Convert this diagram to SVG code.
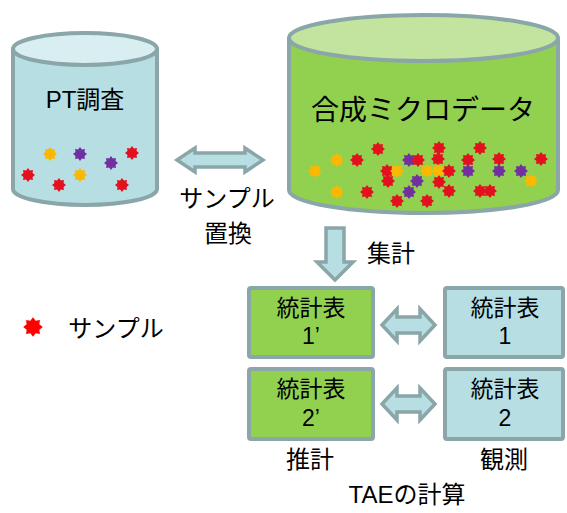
<svg xmlns="http://www.w3.org/2000/svg" width="567" height="513" viewBox="0 0 567 513">
<style>
text{font-family:"Liberation Sans","Noto Sans CJK JP",sans-serif;fill:#000;text-anchor:middle}
.edge{stroke:#8aa6a8;stroke-width:4;stroke-linejoin:round}
.blue{fill:#b7dee2}
.bluetop{fill:#d9eef0}
.green{fill:#92d050}
.greentop{fill:#c3e49f}
.arr{fill:#b7dee2;stroke:#8aa6a8;stroke-width:3.5;stroke-linejoin:miter}
.r{fill:#e3101e}.y{fill:#fbb800}.p{fill:#7030a0}
.bt{font-size:23px}
</style>
<defs>
<path id="star" d="M0,-7 L1.88,-4.53 L4.95,-4.95 L4.53,-1.88 L7,0 L4.53,1.88 L4.95,4.95 L1.88,4.53 L0,7 L-1.88,4.53 L-4.95,4.95 L-4.53,1.88 L-7,0 L-4.53,-1.88 L-4.95,-4.95 L-1.88,-4.53 Z"/>
</defs>
<rect width="567" height="513" fill="#fff"/>

<g id="pt-survey">
<path class="edge blue" d="M13,49 L13,189 A72,16 0 0 0 157,189 L157,49 Z"/>
<ellipse class="edge bluetop" cx="85" cy="49" rx="72" ry="16"/>
<text x="85" y="108" font-size="24">PT調査</text>
<use href="#star" class="y" x="50" y="154"/>
<use href="#star" class="p" x="80" y="154"/>
<use href="#star" class="r" x="132" y="153"/>
<use href="#star" class="p" x="111" y="163"/>
<use href="#star" class="r" x="28" y="175"/>
<use href="#star" class="y" x="80" y="175"/>
<use href="#star" class="r" x="59" y="185"/>
<use href="#star" class="r" x="122" y="185"/>
</g>

<g id="micro-data">
<path class="edge green" d="M289,38 L289,190 A134.5,23 0 0 0 558,190 L558,38 Z"/>
<ellipse class="edge greentop" cx="423.5" cy="38" rx="134.5" ry="23"/>
<text x="423" y="120" font-size="28">合成ミクロデータ</text>
<use href="#star" class="r" x="378" y="149"/>
<use href="#star" class="r" x="439" y="148"/>
<use href="#star" class="r" x="480" y="148"/>
<use href="#star" class="y" x="337" y="160"/>
<use href="#star" class="r" x="357" y="160"/>
<use href="#star" class="p" x="409" y="160"/>
<use href="#star" class="r" x="418" y="160"/>
<use href="#star" class="r" x="438" y="159"/>
<use href="#star" class="r" x="468" y="160"/>
<use href="#star" class="r" x="499" y="159"/>
<use href="#star" class="r" x="541" y="159"/>
<use href="#star" class="y" x="315" y="171"/>
<use href="#star" class="r" x="387" y="171"/>
<use href="#star" class="y" x="397" y="171"/>
<use href="#star" class="y" x="427" y="171"/>
<use href="#star" class="y" x="438" y="171"/>
<use href="#star" class="r" x="449" y="171"/>
<use href="#star" class="p" x="468" y="171"/>
<use href="#star" class="p" x="499" y="171"/>
<use href="#star" class="p" x="521" y="171"/>
<use href="#star" class="r" x="388" y="181"/>
<use href="#star" class="p" x="417" y="181"/>
<use href="#star" class="r" x="439" y="182"/>
<use href="#star" class="y" x="531" y="181"/>
<use href="#star" class="y" x="337" y="192"/>
<use href="#star" class="r" x="367" y="192"/>
<use href="#star" class="p" x="409" y="192"/>
<use href="#star" class="r" x="449" y="191"/>
<use href="#star" class="r" x="480" y="191"/>
<use href="#star" class="r" x="490" y="191"/>
<use href="#star" class="r" x="397" y="201"/>
<use href="#star" class="r" x="427" y="201"/>
</g>

<g id="table1p">
<rect class="edge green" x="249" y="288" width="124" height="69" rx="2"/>
<text class="bt" x="311" y="316">統計表</text>
<text class="bt" x="311" y="344">1’</text>
</g>
<g id="table2p">
<rect class="edge green" x="249" y="369" width="124" height="70" rx="2"/>
<text class="bt" x="311" y="397">統計表</text>
<text class="bt" x="311" y="426">2’</text>
</g>
<g id="table1">
<rect class="edge blue" x="445" y="288" width="118" height="69" rx="2"/>
<text class="bt" x="505" y="316">統計表</text>
<text class="bt" x="505" y="344">1</text>
</g>
<g id="table2">
<rect class="edge blue" x="445" y="369" width="118" height="70" rx="2"/>
<text class="bt" x="505" y="397">統計表</text>
<text class="bt" x="505" y="426">2</text>
</g>

<g id="connectors">
<path class="arr" d="M177,160 L195,148 L195,153 L245,153 L245,148 L263,160 L245,172 L245,167 L195,167 L195,172 Z"/>
<path class="arr" d="M326,228 L344,228 L344,262 L353,262 L335,280 L317,262 L326,262 Z"/>
<path class="arr" d="M382,325 L397,309 L397,317 L420,317 L420,309 L435,325 L420,341 L420,333 L397,333 L397,341 Z"/>
<path class="arr" d="M382,404 L397,388 L397,396 L420,396 L420,388 L435,404 L420,420 L420,412 L397,412 L397,420 Z"/>
</g>

<g id="labels">
<text x="227" y="207" font-size="24">サンプル</text>
<text x="228" y="242" font-size="24">置換</text>
<text x="391" y="262" font-size="24">集計</text>
<text x="310" y="468" font-size="24">推計</text>
<text x="504" y="468" font-size="24">観測</text>
<text x="407" y="503" font-size="24">TAEの計算</text>
</g>

<g id="legend">
<use href="#star" fill="#ff0000" transform="translate(33,327) scale(1.4)"/>
<text x="116" y="337" font-size="24">サンプル</text>
</g>
</svg>
